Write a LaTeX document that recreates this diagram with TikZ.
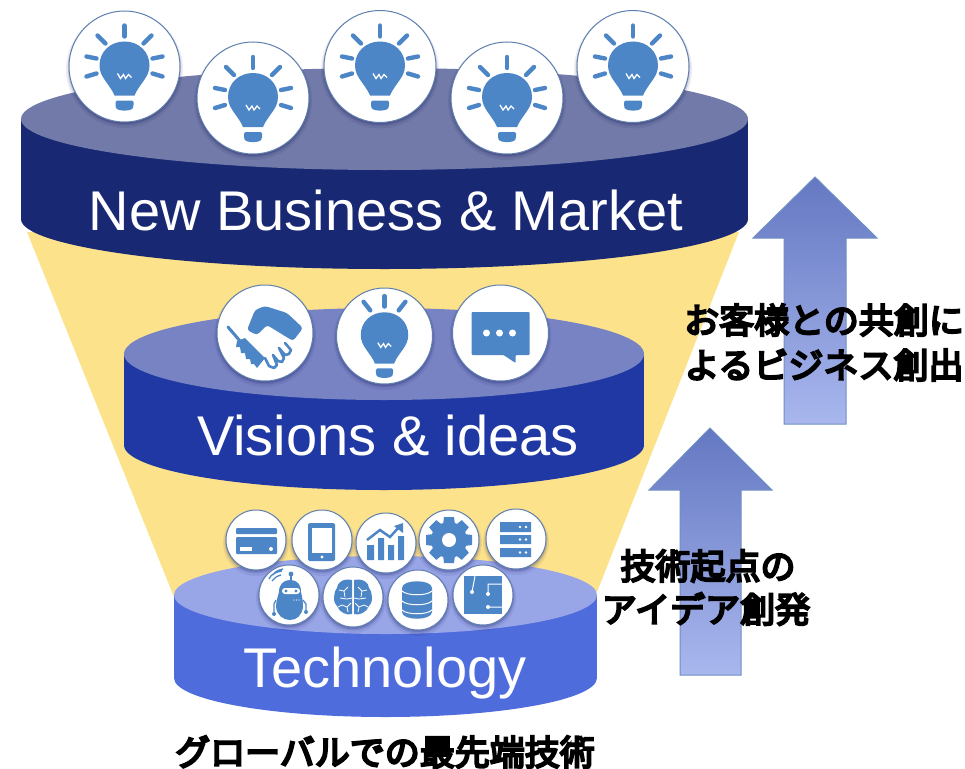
\documentclass[tikz,border=0pt]{standalone}
\usepackage{fontspec}
\setmainfont{Liberation Sans}
\newfontfamily\jpfont[FakeBold=6]{Noto Sans CJK JP}
\definecolor{iconblue}{HTML}{4D86C6}
\definecolor{ringblue}{HTML}{5F80AE}
\definecolor{funnelyellow}{HTML}{FDE28C}
\definecolor{topA}{HTML}{717AA8}
\definecolor{bodyA}{HTML}{182873}
\definecolor{topB}{HTML}{7883C4}
\definecolor{bodyB}{HTML}{1F38A3}
\definecolor{topC}{HTML}{98A6E8}
\definecolor{bodyC}{HTML}{4F6CDC}
\definecolor{arrowtop}{HTML}{6478C2}
\definecolor{arrowmid}{HTML}{7A90DD}
\definecolor{arrowlow}{HTML}{A9B7EE}
\definecolor{arrowline}{HTML}{6F8FC4}
\tikzset{
  bigtext/.style={text=white,font=\fontsize{56}{60}\selectfont,anchor=base,inner sep=0pt},
  jptext/.style={text=black,font=\jpfont\fontsize{35}{35}\selectfont,inner sep=0pt},
  uparrow/.style={draw=arrowline,line width=1pt,top color=arrowtop,middle color=arrowmid,bottom color=arrowlow},
  ico/.style={fill=iconblue,draw=none},
  gap/.style={fill=white,draw=none},
  wline/.style={draw=white,line width=1.3pt},
  ray/.style={draw=iconblue,line width=4.4pt,line cap=round},
}
% ---------- badge ----------
\newcommand\badge[4]{%
  \begin{scope}[shift={(#1,#2)}]
    \fill[black!70!blue,opacity=.07] (0,3) circle [radius={#3pt+3pt}];
    \fill[black!70!blue,opacity=.10] (0,2) circle [radius={#3pt+1.5pt}];
    \fill[black!70!blue,opacity=.15] (0,1.5) circle [radius={#3pt+.5pt}];
    \draw[ringblue,fill=white,line width=1pt] (0,0) circle [radius=#3pt];
    #4
  \end{scope}}
% ---------- icons ----------
\newcommand\bulbbody{%
  \path[ico] (-25,-1) .. controls (-25,-15) and (-14,-25) .. (0,-25)
     .. controls (14,-25) and (25,-15) .. (25,-1)
     .. controls (25,11) and (15,17) .. (10,29) -- (-10,29)
     .. controls (-15,17) and (-25,11) .. (-25,-1) -- cycle;
  \path[ico,rounded corners=1.5pt] (-9,34) -- (9,34) -- (9,40) .. controls (7,45) and (-7,45) .. (-9,40) -- cycle;
  \draw[wline] (-7,7) -- (-4,12) -- (-1,8) -- (1,12) -- (4,8) -- (7,11);
}
\newcommand\iconbulb{%
  \bulbbody
  \draw[ray] (0,-41) -- (0,-30);
  \draw[ray] (-27,-31) -- (-19,-23);
  \draw[ray] (27,-31) -- (19,-23);
  \draw[ray] (-38,-10) -- (-28,-8);
  \draw[ray] (38,-10) -- (28,-8);
  \draw[ray] (-38,10) -- (-28,7);
  \draw[ray] (38,10) -- (28,7);
}
\newcommand\iconbulbsmall{%
  \begin{scope}[scale=.95]
  \bulbbody
  \draw[ray] (0,-42) -- (0,-31);
  \draw[ray] (-22,-36) -- (-15,-27);
  \draw[ray] (22,-36) -- (15,-27);
  \end{scope}
}
\newcommand\iconshake{%
  \path[ico,rounded corners=3pt] (-18,-3) -- (-10,-23) -- (0,-27) -- (22,-20) -- (38,-5) -- (28,8) -- (2,-8) -- (-8,2) -- cycle;
  \draw[iconblue,line width=3pt,line cap=round] (-37,-6) -- (-25,8);
  \path[ico] (-28,8) -- (-20,5) -- (0,25) -- (-8,35) -- (-11,31) -- (-14,31) -- (-15,26) -- (-19,26) -- (-20,20) -- (-24,20) -- (-25,14) -- (-29,14) -- cycle;
  \draw[iconblue,line width=2.6pt,line cap=round,line join=round]
     (0,25) -- (4,33) -- (9,35) -- (12,32) -- (8,22)
     (8,22) -- (13,28) -- (17,29) -- (19,25) -- (14,15)
     (14,15) -- (20,22) -- (24,21) -- (26,17) -- (20,10);
}
\newcommand\iconchat{%
  \path[ico,rounded corners=1pt] (-29,-21) -- (29,-21) -- (29,22) -- (15,22) -- (15,30) -- (3,22) -- (-29,22) -- cycle;
  \fill[white] (-14,0) circle [radius=3.5pt] (-1,0) circle [radius=3.5pt] (12,0) circle [radius=3.5pt];
}
\newcommand\iconcard{%
  \path[ico,rounded corners=1pt] (-20,-12) rectangle (21,-6);
  \path[ico,rounded corners=1pt] (-20,-3) rectangle (21,14);
  \path[gap] (-16,7) rectangle (-4,10.5);
  \fill[white] (15,9) circle [radius=2pt];
}
\newcommand\icontablet{%
  \path[ico,rounded corners=1.5pt] (-14,-17) rectangle (13,21);
  \path[gap] (-10,-12) rectangle (10,13);
  \fill[white] (0,17) circle [radius=1.7pt];
}
\newcommand\iconchart{%
  \path[ico] (-19,2) rectangle (-12,17) (-8,-5) rectangle (-2,17) (2,2) rectangle (8,17) (12,-7) rectangle (18,17);
  \draw[iconblue,line width=2.5pt] (-19,-3) -- (-6,-13) -- (4,-6) -- (14,-17);
  \path[ico] (17,-20) -- (17,-10) -- (8,-17) -- cycle;
}
\newcommand\icongear{%
  \foreach \a in {0,45,...,315}{\path[ico,rotate=\a] (-5,-23) -- (5,-23) -- (6,-15) -- (-6,-15) -- cycle;}
  \fill[iconblue] (0,0) circle [radius=18pt];
  \fill[white] (0,0) circle [radius=7pt];
}
\newcommand\iconserver{%
  \path[ico] (-16,-17) rectangle (15,-7) (-16,-4) rectangle (15,5) (-16,9) rectangle (15,18);
  \fill[white] (4,-12) circle [radius=1.4pt] (10,-12) circle [radius=1.4pt]
     (4,.5) circle [radius=1.4pt] (10,.5) circle [radius=1.4pt]
     (4,13.5) circle [radius=1.4pt] (10,13.5) circle [radius=1.4pt];
}
\newcommand\iconrobot{%
  \draw[iconblue,line width=1.3pt] (-17,-14) .. controls (-15,-17) and (-12,-19) .. (-8,-20)
     (-20,-16) .. controls (-18,-21) and (-13,-23) .. (-7,-24)
     (-16,-20) .. controls (-14,-24) and (-10,-25) .. (-6,-26);
  \fill[iconblue] (2,-21) circle [radius=2.4pt];
  \draw[iconblue,line width=1.6pt] (2,-21) -- (2,-14);
  \path[ico] (-10,-3) .. controls (-10,-11) and (-5,-15) .. (1,-15)
     .. controls (8,-15) and (12,-11) .. (12,-3) .. controls (13,1) and (14,6) .. (14,12)
     .. controls (13,20) and (8,25) .. (1,25) .. controls (-6,25) and (-12,20) .. (-13,12)
     .. controls (-13,6) and (-11,1) .. (-10,-3) -- cycle;
  \path[gap,rounded corners=3pt] (-7,-7) rectangle (11,-1);
  \fill[iconblue] (-3,-4) circle [radius=1.7pt] (7,-4) circle [radius=1.7pt];
  \fill[white] (5,5) circle [radius=.7pt] (7.5,5) circle [radius=.7pt] (10,5) circle [radius=.7pt];
  \draw[iconblue,line width=1.3pt] (-13,5) -- (-15,9) -- (-15,18) (14,5) -- (17,9) -- (17,16);
  \fill[iconblue] (-15,19) circle [radius=2pt] (17,17) circle [radius=2pt];
}
\newcommand\iconbrain{%
  \path[ico] (-1,-17) .. controls (-10,-19) and (-16,-14) .. (-16,-9)
     .. controls (-20,-4) and (-20,6) .. (-16,9) .. controls (-14,15) and (-6,19) .. (-1,17) -- cycle;
  \path[ico] (1,-17) .. controls (10,-19) and (16,-14) .. (16,-9)
     .. controls (20,-4) and (20,6) .. (16,9) .. controls (14,15) and (6,19) .. (1,17) -- cycle;
  \draw[white,line width=.8pt] (-5,-10) -- (-9,-6) -- (-14,-7) (-9,-6) -- (-8,0) (-1,1) -- (-6,2) -- (-13,1)
    (-6,10) -- (-11,8) -- (-15,10) (-5,15) -- (-6,10) -- (-2,6)
    (5,-10) -- (9,-6) -- (14,-7) (9,-6) -- (8,0) (1,1) -- (6,2) -- (13,1)
    (6,10) -- (11,8) -- (15,10) (5,15) -- (6,10) -- (2,6);
}
\newcommand\icondb{%
  \path[ico] (-16,-12) .. controls (-16,-21) and (14,-21) .. (14,-12) -- (14,12)
     .. controls (14,21) and (-16,21) .. (-16,12) -- cycle;
  \draw[white,line width=1pt] (-16,-9) .. controls (-11,-4) and (9,-4) .. (14,-9)
     (-16,1) .. controls (-11,6) and (9,6) .. (14,1)
     (-16,10) .. controls (-11,15) and (9,15) .. (14,10);
}
\newcommand\iconchip{%
  \path[ico] (-19,-19) rectangle (19,19);
  \draw[white,line width=1pt] (-8,-19) -- (-11,-3) (19,-11) -- (5,-11) -- (5,-1) (19,12) -- (5,12);
  \fill[white] (-11,-3) circle [radius=2pt] (5,-1) circle [radius=2pt] (5,12) circle [radius=2pt];
}
\newcommand\heavy[1]{\special{pdf:code q 2 Tr 1.1 w}#1\special{pdf:code Q}}
\begin{document}
\begin{tikzpicture}[x=1pt,y=-1pt]
\useasboundingbox (0,0) rectangle (965,768);
% funnel
\fill[funnelyellow] (27,232) -- (739,232) -- (597,592) -- (174,597) -- cycle;
% top cylinder
\fill[bodyA] (21,119) rectangle (748,219);
\fill[bodyA] (384.5,219) ellipse [x radius=363.5pt,y radius=50pt];
\fill[topA] (384.5,119) ellipse [x radius=363.5pt,y radius=51pt];
% mid cylinder
\fill[bodyB] (124,354) rectangle (644,445);
\fill[bodyB] (384,445) ellipse [x radius=260pt,y radius=45pt];
\fill[topB] (384,354) ellipse [x radius=260pt,y radius=46pt];
% low cylinder
\fill[bodyC] (174,595) rectangle (597,678);
\fill[bodyC] (385.5,678) ellipse [x radius=211.5pt,y radius=39pt];
\fill[topC] (385.5,595) ellipse [x radius=211.5pt,y radius=39pt];
% arrows
\path[uparrow]
  (815,177) -- (877,238) -- (846,238) -- (846,424) -- (784,424) -- (784,238) -- (753,238) -- cycle;
\path[uparrow]
  (710,428) -- (772,490) -- (741,490) -- (741,675) -- (680,675) -- (680,490) -- (649,490) -- cycle;
% badges
\badge{124.5}{66.5}{55.5}{\iconbulb}
\badge{253}{98}{56}{\iconbulb}
\badge{380}{66.5}{56}{\iconbulb}
\badge{507}{98}{56}{\iconbulb}
\badge{633}{66.5}{56}{\iconbulb}
\badge{265}{333}{48}{\iconshake}
\badge{384.5}{336}{48}{\iconbulbsmall}
\badge{500.5}{333}{48}{\iconchat}
\badge{256}{540}{30}{\iconcard}
\badge{322}{540}{30}{\icontablet}
\badge{386}{543}{30}{\iconchart}
\badge{449}{540}{30}{\icongear}
\badge{516}{539}{30}{\iconserver}
\badge{289}{595}{30}{\iconrobot}
\badge{353}{597}{30}{\iconbrain}
\badge{418}{600}{30}{\icondb}
\badge{483}{595}{30}{\iconchip}
% labels
\node[bigtext] (nbm) at (386,230) {New Business \& Market};
\node[bigtext] (vis) at (388,455) {Visions \& ideas};
\node[bigtext] (tech) at (385,687) {Technology};
\node[jptext] (j1) at (824,320) {\heavy{お客様との共創に}};
\node[jptext] (j2) at (824,365) {\heavy{よるビジネス創出}};
\node[jptext] (j3) at (708,566) {\heavy{技術起点の}};
\node[jptext] (j4) at (706,609) {\heavy{アイデア創発}};
\node[jptext] (j5) at (385,752) {\heavy{グローバルでの最先端技術}};
\end{tikzpicture}
\end{document}
